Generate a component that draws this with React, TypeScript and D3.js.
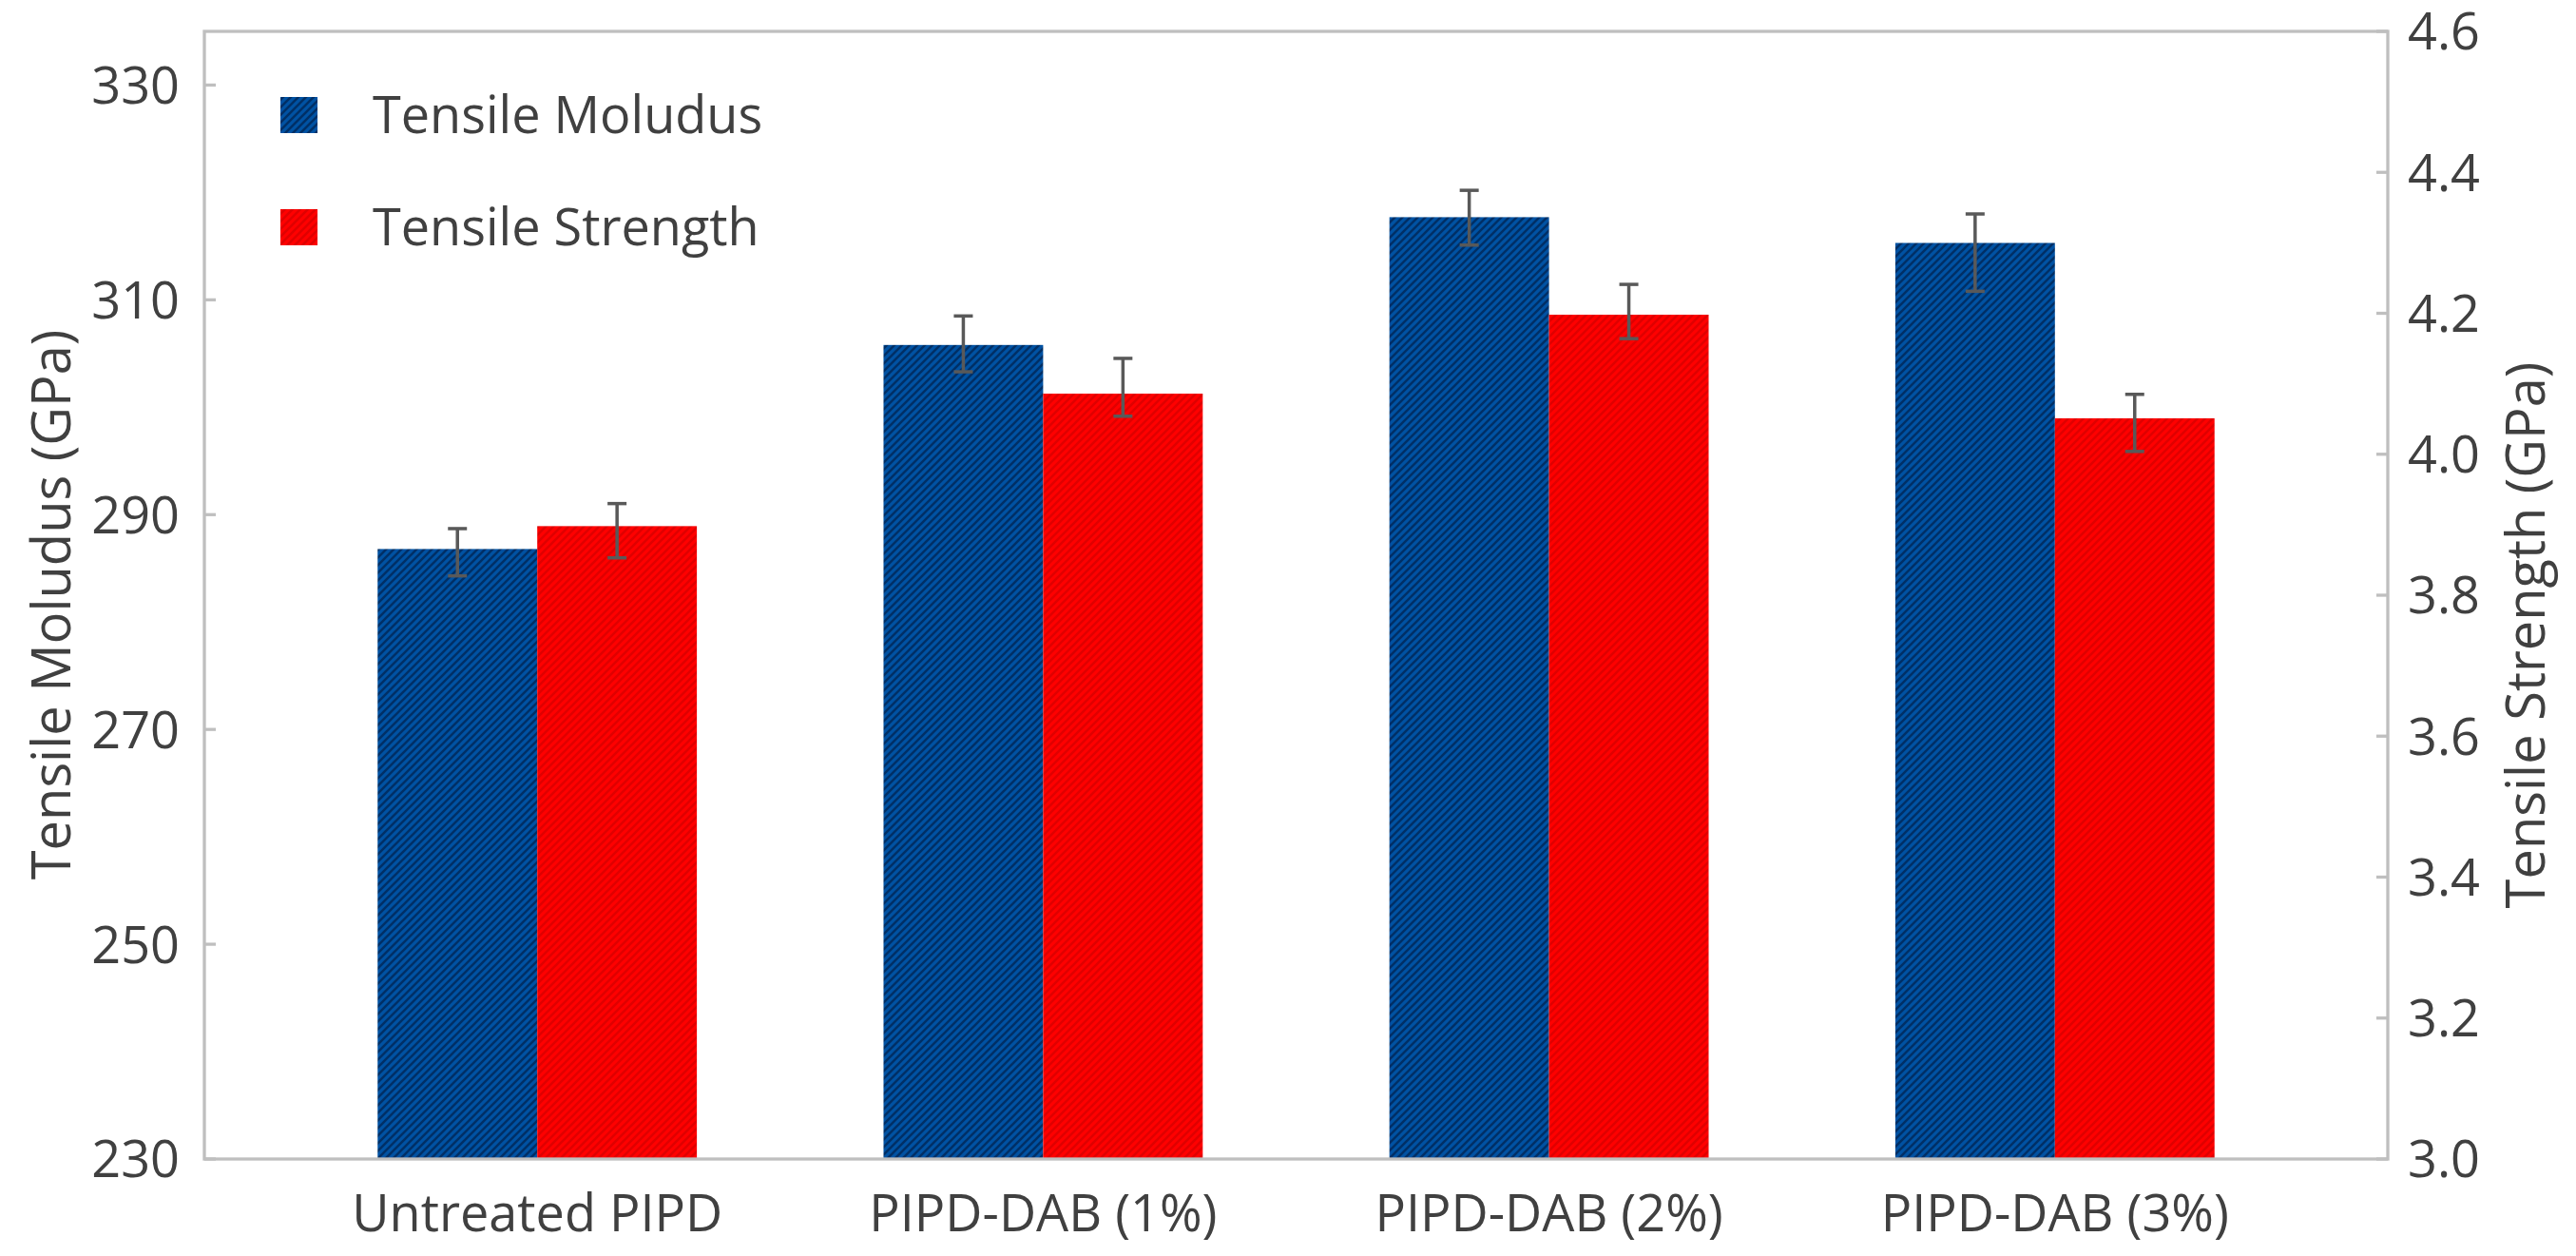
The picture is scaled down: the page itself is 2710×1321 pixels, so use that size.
import React, { useEffect } from "react";
import * as d3 from "d3";

const categories = ["Untreated PIPD", "PIPD-DAB (1%)", "PIPD-DAB (2%)", "PIPD-DAB (3%)"];
const modulus = [286.8, 305.8, 317.7, 315.3];
const modulusErrPlus = [1.9, 2.7, 2.5, 2.7];
const modulusErrMinus = [2.5, 2.5, 2.6, 4.5];
const strength = [3.898, 4.086, 4.198, 4.051];
const strengthErrPlus = [0.032, 0.05, 0.043, 0.034];
const strengthErrMinus = [0.045, 0.032, 0.034, 0.047];
const leftTicks = [230, 250, 270, 290, 310, 330];
const rightTicks = [3.0, 3.2, 3.4, 3.6, 3.8, 4.0, 4.2, 4.4, 4.6];
const seriesNames = ["Tensile Moludus", "Tensile Strength"];

const W = 2710;
const H = 1321;
const L = 215, R = 2512, T = 33, B = 1219;
const FONT = "'Open Sans', 'Noto Sans', sans-serif";
const TEXT = "#404040";
const AXIS = "#bfbfbf";

export default function App() {
  useEffect(() => {
    document.body.style.margin = "0";
  }, []);

  const x = d3.scaleBand<string>().domain(categories).range([L, R]).paddingInner(0).paddingOuter(0.158);
  const groupW = x.bandwidth() * 0.631;
  const xs = d3.scaleBand<string>().domain(["m", "s"]).range([0, groupW]);
  const yL = d3.scaleLinear().domain([230, 335]).range([B, T]);
  const yR = d3.scaleLinear().domain([3.0, 4.6]).range([B, T]);
  const fmtR = d3.format(".1f");

  const gx = (c: string) => (x(c) as number) + x.bandwidth() / 2 - groupW / 2;

  const errBar = (cx: number, yTop: number, yBot: number, key: string) => (
    <g key={key} stroke="#595959" strokeWidth={3.5}>
      <line x1={cx} x2={cx} y1={yTop} y2={yBot} />
      <line x1={cx - 10} x2={cx + 10} y1={yTop} y2={yTop} />
      <line x1={cx - 10} x2={cx + 10} y1={yBot} y2={yBot} />
    </g>
  );

  return (
    <svg width={W} height={H} style={{ display: "block", position: "absolute", left: 0, top: 0 }} fontFamily={FONT}>
      <defs>
        <pattern id="pBlue" width={8} height={8} patternUnits="userSpaceOnUse">
          <rect width={8} height={8} fill="#0052a3" />
          <path d="M-2,2 L2,-2 M0,8 L8,0 M6,10 L10,6" stroke="#002f66" strokeWidth={2.6} />
        </pattern>
        <pattern id="pRed" width={8} height={8} patternUnits="userSpaceOnUse">
          <rect width={8} height={8} fill="#ff0000" />
          <path d="M-2,2 L2,-2 M0,8 L8,0 M6,10 L10,6" stroke="#e00000" strokeWidth={2.6} />
        </pattern>
      </defs>
      <rect width={W} height={H} fill="#ffffff" />

      {/* bars */}
      {categories.map((c, i) => {
        const x0 = gx(c);
        const bw = xs.bandwidth();
        return (
          <g key={c}>
            <rect x={x0 + (xs("m") as number)} y={yL(modulus[i])} width={bw} height={B - yL(modulus[i])} fill="url(#pBlue)" />
            <rect x={x0 + (xs("s") as number)} y={yR(strength[i])} width={bw} height={B - yR(strength[i])} fill="url(#pRed)" />
          </g>
        );
      })}

      {/* error bars */}
      {categories.map((c, i) => {
        const x0 = gx(c);
        const bw = xs.bandwidth();
        const cm = x0 + (xs("m") as number) + bw / 2;
        const cs = x0 + (xs("s") as number) + bw / 2;
        return (
          <g key={"e" + c}>
            {errBar(cm, yL(modulus[i] + modulusErrPlus[i]), yL(modulus[i] - modulusErrMinus[i]), "m")}
            {errBar(cs, yR(strength[i] + strengthErrPlus[i]), yR(strength[i] - strengthErrMinus[i]), "s")}
          </g>
        );
      })}

      {/* plot border */}
      <rect x={L} y={T} width={R - L} height={B - T} fill="none" stroke={AXIS} strokeWidth={3.3} />

      {/* left ticks */}
      {leftTicks.map((t) => (
        <g key={"l" + t}>
          <line x1={L} x2={L + 12} y1={yL(t)} y2={yL(t)} stroke={AXIS} strokeWidth={3.3} />
          <text x={189} y={yL(t)} dy="0.36em" textAnchor="end" fontSize={54} fill={TEXT}>{t}</text>
        </g>
      ))}

      {/* right ticks */}
      {rightTicks.map((t) => (
        <g key={"r" + t}>
          <line x1={R - 12} x2={R} y1={yR(t)} y2={yR(t)} stroke={AXIS} strokeWidth={3.3} />
          <text x={2533} y={yR(t)} dy="0.36em" textAnchor="start" fontSize={54} fill={TEXT}>{fmtR(t)}</text>
        </g>
      ))}

      {/* category labels */}
      {categories.map((c) => (
        <text key={"c" + c} x={(x(c) as number) + x.bandwidth() / 2} y={1295} textAnchor="middle" fontSize={54} fill={TEXT}>{c}</text>
      ))}

      {/* axis titles */}
      <text transform="translate(74,636) rotate(-90)" textAnchor="middle" fontSize={56} fill={TEXT}>Tensile Moludus (GPa)</text>
      <text transform="translate(2677,668) rotate(-90)" textAnchor="middle" fontSize={56} fill={TEXT}>Tensile Strength (GPa)</text>

      {/* legend */}
      {seriesNames.map((s, i) => (
        <g key={"lg" + s}>
          <rect x={295} y={102 + i * 118} width={39} height={38} fill={i === 0 ? "url(#pBlue)" : "url(#pRed)"} />
          <text x={392} y={140 + i * 118} fontSize={54} fill={TEXT}>{s}</text>
        </g>
      ))}
    </svg>
  );
}
